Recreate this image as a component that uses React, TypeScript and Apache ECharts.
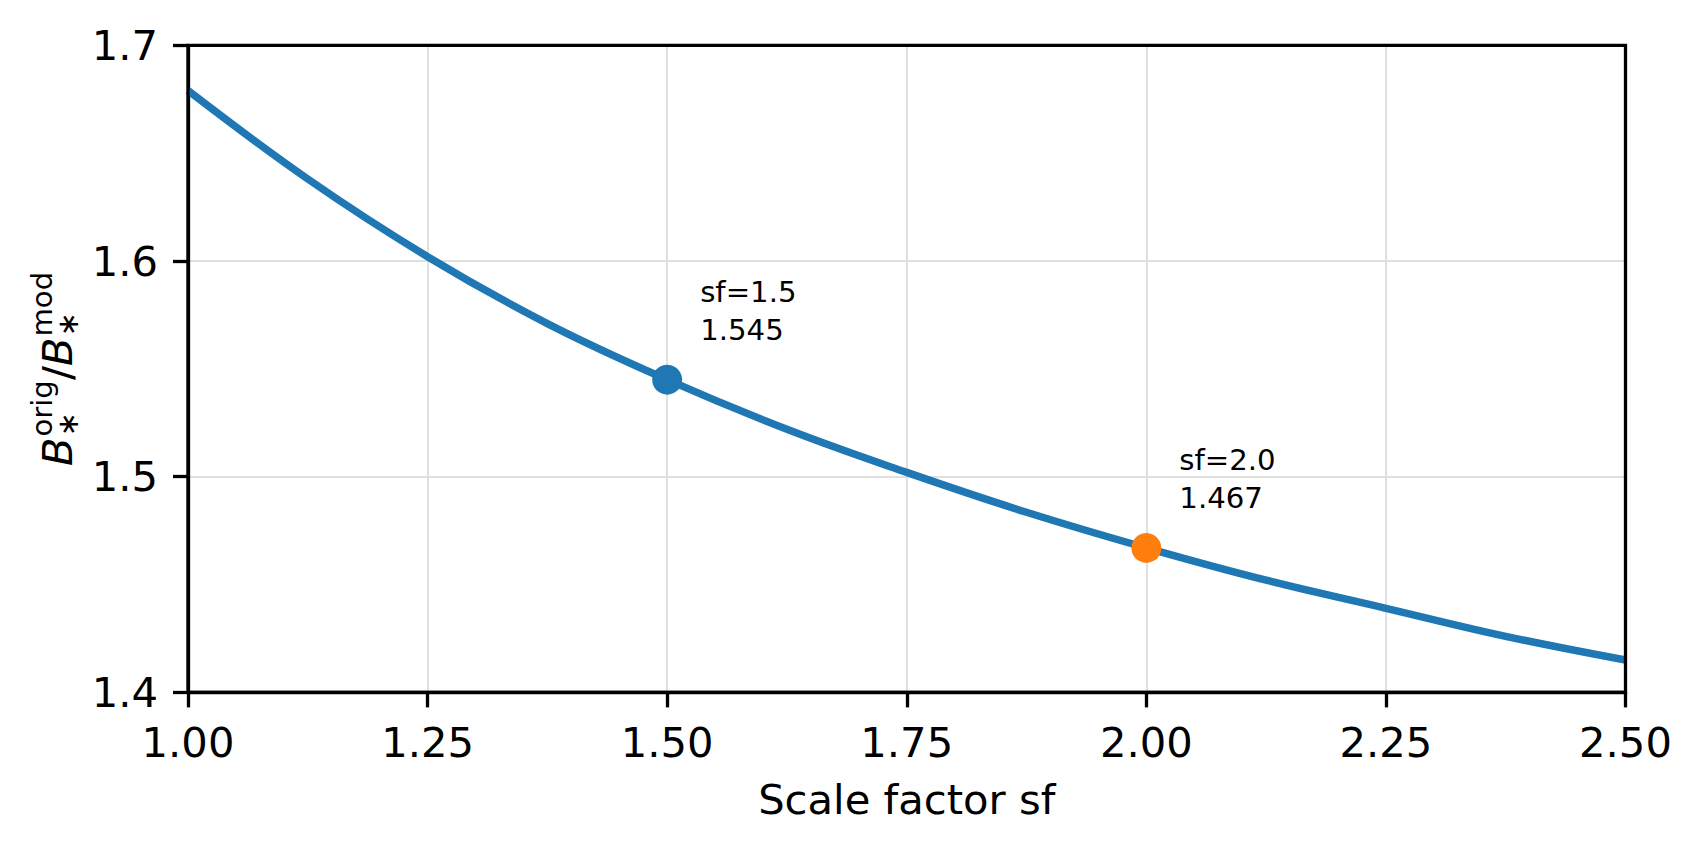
import React, { useEffect, useRef } from "react";
import * as echarts from "echarts";

// Ratio curve sampled along the scale factor axis
const scaleFactors = [1.0, 1.125, 1.25, 1.375, 1.5, 1.625, 1.75, 1.875, 2.0, 2.125, 2.25, 2.375, 2.5];
const ratioValues = [1.679, 1.638, 1.602, 1.571, 1.545, 1.522, 1.502, 1.4835, 1.467, 1.452, 1.439, 1.426, 1.415];

// Highlighted scale factors and their ratios
const markedFactors = [1.5, 2.0];
const markedRatios = [1.545, 1.467];
const markedColors = ["#1f77b4", "#ff7f0e"];

const xTicks = { min: 1.0, max: 2.5, interval: 0.25 };
const yTicks = { min: 1.4, max: 1.7, interval: 0.1 };

const FONT = "DejaVu Sans";
const BASE = 41.7;
const SMALL = 29.2;

export default function App() {
  const ref = useRef<HTMLDivElement>(null);

  useEffect(() => {
    if (!ref.current) return;
    const chart = echarts.init(ref.current, undefined, { renderer: "svg" });

    const lineData = scaleFactors.map((x, i) => [x, ratioValues[i]]);
    const markData = markedFactors.map((x, i) => ({
      value: [x, markedRatios[i]],
      itemStyle: { color: markedColors[i], opacity: 1 },
    }));

    // y-axis title: B_*^orig / B_*^mod, laid out along a rotated group
    const mid = (v: number) => -0.346 * v;
    const yTitle = {
      type: "group",
      x: 71.7,
      y: 466.1,
      rotation: Math.PI / 2,
      children: [
        { type: "text", x: 0, y: mid(BASE), style: { text: "B", font: `italic ${BASE}px '${FONT}'`, fill: "#000", align: "left", verticalAlign: "middle" } },
        { type: "text", x: 29.5, y: -20 + mid(SMALL), style: { text: "orig", font: `${SMALL}px '${FONT}'`, fill: "#000", align: "left", verticalAlign: "middle" } },
        { type: "text", x: 29.5, y: -4, style: { text: "\u2217", font: `${SMALL}px '${FONT}'`, fill: "#000", align: "left", verticalAlign: "middle" } },
        { type: "text", x: 86, y: mid(BASE), style: { text: "/", font: `${BASE}px '${FONT}'`, fill: "#000", align: "left", verticalAlign: "middle" } },
        { type: "text", x: 100, y: mid(BASE), style: { text: "B", font: `italic ${BASE}px '${FONT}'`, fill: "#000", align: "left", verticalAlign: "middle" } },
        { type: "text", x: 129.5, y: -20 + mid(SMALL), style: { text: "mod", font: `${SMALL}px '${FONT}'`, fill: "#000", align: "left", verticalAlign: "middle" } },
        { type: "text", x: 129.5, y: -4, style: { text: "\u2217", font: `${SMALL}px '${FONT}'`, fill: "#000", align: "left", verticalAlign: "middle" } },
      ],
    };

    const gridColor = "#e0e0e0";

    chart.setOption({
      animation: false,
      backgroundColor: "#fff",
      textStyle: { fontFamily: FONT },
      grid: {
        left: 188,
        right: 76.5,
        top: 45.3,
        bottom: 159.6,
        show: true,
        borderColor: "#000",
        borderWidth: 3.3,
        backgroundColor: "transparent",
        z: 10,
      },
      xAxis: {
        type: "value",
        min: xTicks.min,
        max: xTicks.max,
        interval: xTicks.interval,
        name: "Scale factor sf",
        nameLocation: "middle",
        nameGap: 86,
        nameTextStyle: { fontSize: BASE, color: "#000", fontFamily: FONT, verticalAlign: "top", lineHeight: BASE },
        axisLine: { show: true, lineStyle: { color: "#000", width: 3.3 } },
        axisTick: { show: true, length: 15, inside: false, lineStyle: { color: "#000", width: 3.3 } },
        axisLabel: {
          fontSize: BASE,
          color: "#000",
          margin: 29,
          lineHeight: BASE,
          formatter: (v: number) => v.toFixed(2),
          showMinLabel: true,
          showMaxLabel: true,
        },
        splitLine: { show: true, showMinLine: false, showMaxLine: false, lineStyle: { color: gridColor, width: 2 } },
      },
      yAxis: {
        type: "value",
        min: yTicks.min,
        max: yTicks.max,
        interval: yTicks.interval,
        axisLine: { show: true, lineStyle: { color: "#000", width: 3.3 } },
        axisTick: { show: true, length: 15, inside: false, lineStyle: { color: "#000", width: 3.3 } },
        axisLabel: {
          fontSize: BASE,
          color: "#000",
          margin: 30,
          lineHeight: BASE,
          formatter: (v: number) => v.toFixed(1),
          showMinLabel: true,
          showMaxLabel: true,
        },
        splitLine: { show: true, showMinLine: false, showMaxLine: false, lineStyle: { color: gridColor, width: 2 } },
      },
      graphic: [yTitle],
      series: [
        {
          type: "line",
          data: lineData,
          smooth: 0.4,
          showSymbol: false,
          lineStyle: { color: "#1f77b4", width: 7.5 },
          z: 3,
        },
        {
          type: "scatter",
          data: markData,
          symbol: "circle",
          symbolSize: 30,
          z: 4,
          itemStyle: { opacity: 1 },
          label: {
            show: true,
            position: [48, -16.3],
            align: "left",
            verticalAlign: "bottom",
            fontSize: SMALL,
            lineHeight: 37.6,
            color: "#000",
            opacity: 1,
            fontFamily: FONT,
            formatter: (p: any) => `sf=${p.value[0].toFixed(1)}\n${p.value[1].toFixed(3)}`,
          },
        },
      ],
    });

    return () => chart.dispose();
  }, []);

  return (
    <div
      ref={ref}
      style={{ position: "fixed", left: 0, top: 0, width: 1702, height: 852, background: "#fff" }}
    />
  );
}
